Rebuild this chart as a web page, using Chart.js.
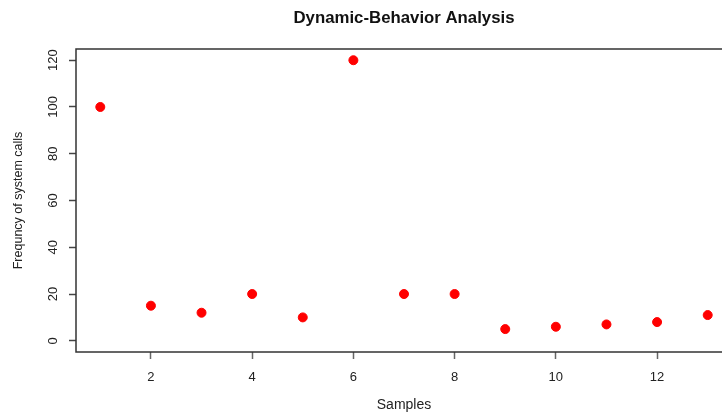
<!DOCTYPE html>
<html>
<head>
<meta charset="utf-8">
<script src="https://cdn.jsdelivr.net/npm/chart.js@4"></script>
<style>
  html, body { margin: 0; padding: 0; background: #fff; }
  #clip { width: 722px; height: 413px; overflow: hidden; }
  #wrap { width: 808px; height: 413px; }
</style>
</head>
<body>
<div id="clip"><div id="wrap"><canvas id="scatterChart"></canvas></div></div>
<script>
var samples = [1, 2, 3, 4, 5, 6, 7, 8, 9, 10, 11, 12, 13];
var calls = [100, 15, 12, 20, 10, 120, 20, 20, 5, 6, 7, 8, 11];
var xTicks = [2, 4, 6, 8, 10, 12];
var yTicks = [0, 20, 40, 60, 80, 100, 120];
var chartTitle = 'Dynamic-Behavior Analysis';

var points = [];
for (var i = 0; i < samples.length; i++) {
    points.push({x: samples[i], y: calls[i]});
}

// R style box around the plot region (right side runs off the window),
// and the main title centred over the plot region like R does
var plotBox = {
    id: 'plotBox',
    afterDraw: function(chart) {
        var a = chart.chartArea;
        var c = chart.ctx;
        c.save();
        c.strokeStyle = '#333';
        c.lineWidth = 1.5;
        c.strokeRect(a.left, a.top, a.right - a.left, a.bottom - a.top);
        c.fillStyle = '#111';
        c.font = 'bold 16.8px "Liberation Sans"';
        c.textAlign = 'center';
        c.textBaseline = 'middle';
        c.fillText(chartTitle, (a.left + a.right) / 2, 18);
        c.restore();
    }
};

var ctx = document.getElementById('scatterChart').getContext('2d');
var myChart = new Chart(ctx, {
    type: 'scatter',
    data: {
        datasets: [{
            data: points,
            backgroundColor: '#ff0000',
            borderColor: '#ff0000',
            pointRadius: 4.5,
            pointHoverRadius: 4.5
        }]
    },
    options: {
        responsive: true,
        maintainAspectRatio: false,
        animation: false,
        layout: { padding: { left: 0, right: 76, top: 49, bottom: 0 }, autoPadding: false },
        plugins: {
            legend: { display: false },
            tooltip: { enabled: false },
            title: { display: false }
        },
        scales: {
            x: {
                type: 'linear',
                min: 0.52,
                max: 13.48,
                afterBuildTicks: function(s) { s.ticks = xTicks.map(function(v) { return {value: v}; }); },
                afterFit: function(s) { s.height = 61; },
                grid: { drawOnChartArea: false, drawTicks: true, tickLength: 7, tickColor: '#666', tickWidth: 1.5 },
                border: { display: false },
                ticks: {
                    color: '#222',
                    padding: 11,
                    maxRotation: 0,
                    font: { family: 'Liberation Sans', size: 13 }
                },
                title: {
                    display: true,
                    text: 'Samples',
                    color: '#222',
                    font: { family: 'Liberation Sans', size: 14 },
                    padding: { top: 0, bottom: -1 }
                }
            },
            y: {
                min: -4.8,
                max: 124.8,
                afterBuildTicks: function(s) { s.ticks = yTicks.map(function(v) { return {value: v}; }); },
                afterFit: function(s) { s.width = 76; },
                grid: { drawOnChartArea: false, drawTicks: true, tickLength: 7, tickColor: '#444', tickWidth: 1.5 },
                border: { display: false },
                ticks: {
                    color: '#222',
                    padding: 5,
                    minRotation: 90,
                    maxRotation: 90,
                    crossAlign: 'center',
                    font: { family: 'Liberation Sans', size: 13 }
                },
                title: {
                    display: true,
                    text: 'Frequncy of system calls',
                    color: '#222',
                    font: { family: 'Liberation Sans', size: 12.5 },
                    padding: { top: 11, bottom: 0 }
                }
            }
        }
    },
    plugins: [plotBox]
});
</script>
</body>
</html>
